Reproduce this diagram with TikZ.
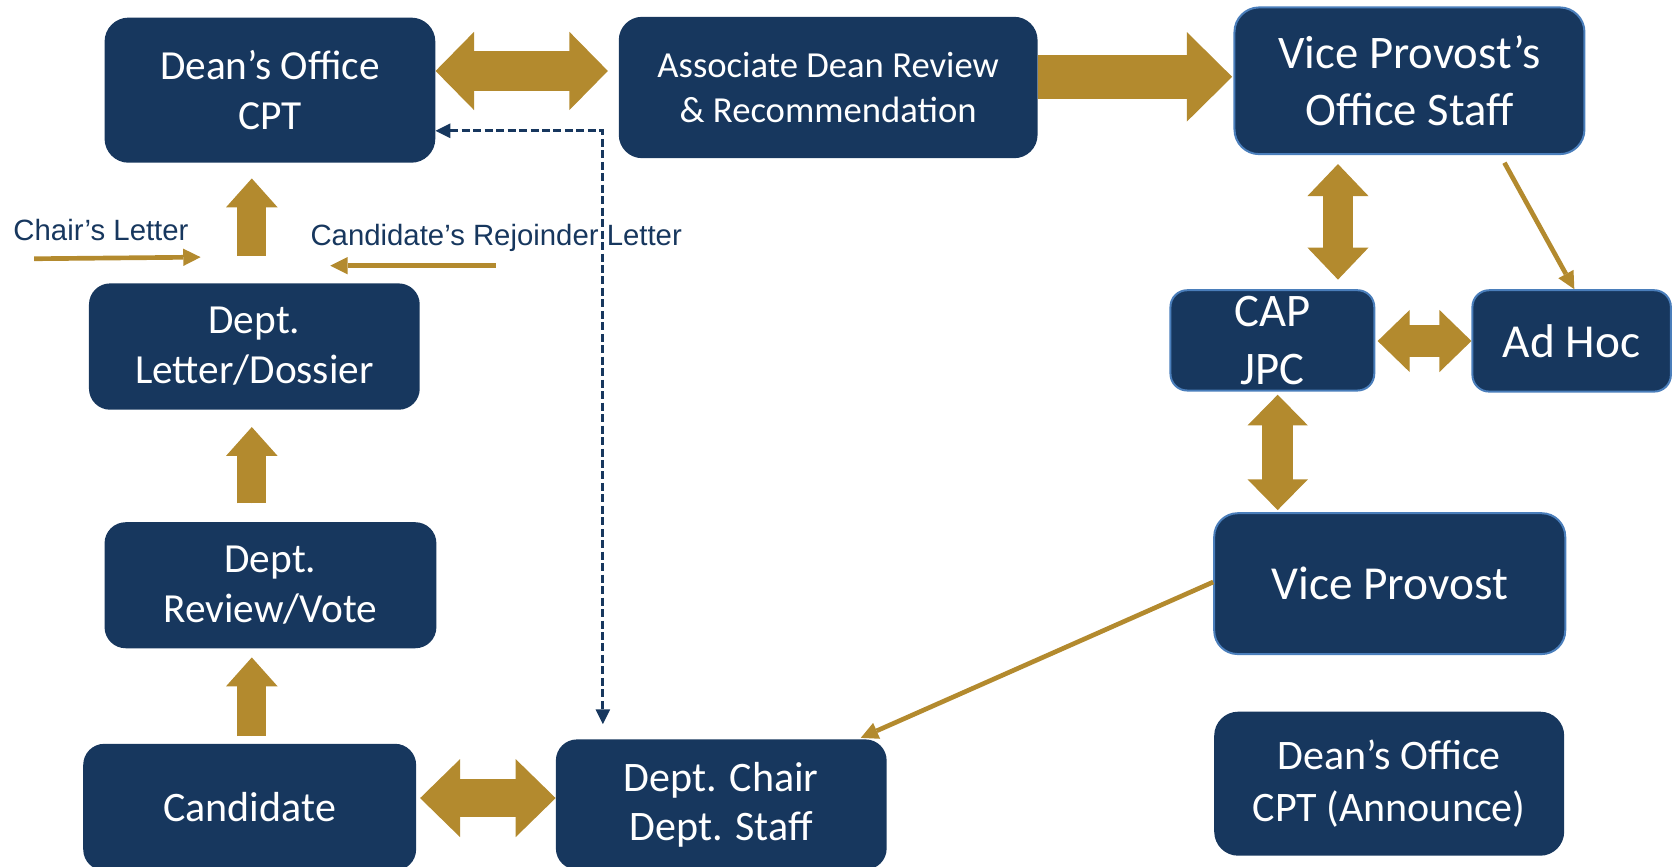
\documentclass[tikz,border=0pt]{standalone}
\usepackage{fontspec}
\setmainfont{Carlito}
\newfontfamily\lblfont{Liberation Sans}
\usetikzlibrary{arrows.meta}
\definecolor{navy}{HTML}{17375E}
\definecolor{gold}{HTML}{B38A2E}
\definecolor{edgeblue}{HTML}{4A7EBB}
\tikzset{
  box/.style={fill=navy, text=white, align=center, inner sep=0pt},
  lightedge/.style={draw=edgeblue, line width=1.5pt},
  fat/.style={draw=gold, fill=gold, line cap=butt},
  thin/.style={draw=gold, line width=3.5pt, -{Triangle[length=13pt,width=13pt,line width=0pt]}},
  lbl/.style={text=navy, font=\lblfont\fontsize{22}{26}\selectfont, inner sep=0pt},
  dasharrow/.style={draw=navy, line width=2.4pt, dash pattern=on 6pt off 2.6pt,
    {Triangle[length=11pt,width=11pt,line width=0pt]}-{Triangle[length=11pt,width=11pt,line width=0pt]}}
}
\begin{document}
\begin{tikzpicture}[x=0.8pt,y=-0.8pt]
\useasboundingbox (0,0) rectangle (1568,812);

% boxes
\node[box, minimum width=248pt, minimum height=108.8pt, rounded corners=18pt,
  font=\fontsize{31}{37}\selectfont] (dean) at (253,84.5) {Dean’s Office\\CPT};
\node[box, minimum width=314pt, minimum height=106pt, rounded corners=17.5pt,
  font=\fontsize{27.5}{33.5}\selectfont] (assoc) at (776.2,82) {Associate Dean Review\\\& Recommendation};
\node[box, lightedge, minimum width=262.4pt, minimum height=110pt, rounded corners=18.5pt,
  font=\fontsize{35}{42.5}\selectfont] (vpstaff) at (1321,75.7) {Vice Provost’s\\Office Staff};
\node[box, lightedge, minimum width=152.8pt, minimum height=75.2pt, rounded corners=12.5pt,
  font=\fontsize{35}{43}\selectfont] (cap) at (1192.5,319) {CAP\\JPC};
\node[box, lightedge, minimum width=148.8pt, minimum height=76pt, rounded corners=12.5pt,
  font=\fontsize{35.5}{43}\selectfont] (adhoc) at (1473,319.5) {Ad Hoc};
\node[box, minimum width=248pt, minimum height=94.7pt, rounded corners=15.8pt,
  font=\fontsize{31}{37.5}\selectfont] (letter) at (238.4,324.8) {Dept.\\Letter/Dossier};
\node[box, minimum width=248.8pt, minimum height=94.5pt, rounded corners=15.8pt,
  font=\fontsize{31}{37.5}\selectfont] (review) at (253.5,548.5) {Dept.\\Review/Vote};
\node[box, minimum width=249.6pt, minimum height=95pt, rounded corners=15.8pt,
  font=\fontsize{31.5}{37.5}\selectfont] (candidate) at (234,756.5) {Candidate};
\node[box, minimum width=248pt, minimum height=97.6pt, rounded corners=15.8pt,
  font=\fontsize{31.5}{37}\selectfont] (deptchair) at (676,754) {Dept. Chair\\Dept. Staff};
\node[box, lightedge, minimum width=263.2pt, minimum height=105.6pt, rounded corners=17.6pt,
  font=\fontsize{35.5}{42}\selectfont] (vp) at (1302.5,547) {Vice Provost};
\node[box, minimum width=262.4pt, minimum height=108pt, rounded corners=18pt,
  font=\fontsize{31.5}{38.5}\selectfont] (announce) at (1302,734.5) {Dean’s Office\\CPT (Announce)};

% fat arrows
\draw[fat, line width=29.6pt,
  {Triangle[length=28.8pt,width=58.4pt,line width=1pt]}-{Triangle[length=28.8pt,width=58.4pt,line width=1pt]},
  shorten >=8pt] (dean.east |- 0,66.5) -- (assoc.west |- 0,66.5);
\draw[fat, line width=32.8pt, -{Triangle[length=34pt,width=67pt,line width=1pt]}, shorten >=1pt]
  (assoc.east |- 0,72) -- (vpstaff.west |- 0,72);
\draw[fat, line width=21.6pt, -{Triangle[length=21.6pt,width=38.4pt,line width=1pt]},
  shorten <=20.5pt, shorten >=11.6pt] (236,0 |- letter.north) -- (236,0 |- dean.south);
\draw[fat, line width=21.6pt, -{Triangle[length=21.6pt,width=38.4pt,line width=1pt]},
  shorten <=14pt, shorten >=12.8pt] (236,0 |- review.north) -- (236,0 |- letter.south);
\draw[fat, line width=21.6pt, -{Triangle[length=21.6pt,width=38.4pt,line width=1pt]},
  shorten <=5.6pt, shorten >=6.7pt] (236,0 |- candidate.north) -- (236,0 |- review.south);
\draw[fat, line width=29pt,
  {Triangle[length=30pt,width=58.4pt,line width=1pt]}-{Triangle[length=30pt,width=58.4pt,line width=1pt]},
  shorten <=2.8pt] (candidate.east |- 0,748) -- (deptchair.west |- 0,748);
\draw[fat, line width=22.7pt,
  {Triangle[length=24pt,width=45.6pt,line width=1pt]}-{Triangle[length=24pt,width=45.6pt,line width=1pt]},
  shorten <=6.7pt, shorten >=7.2pt] (1254,0 |- vpstaff.south) -- (1254,0 |- cap.north);
\draw[fat, line width=24pt,
  {Triangle[length=24pt,width=46.4pt,line width=1pt]}-{Triangle[length=24pt,width=46.4pt,line width=1pt]},
  shorten <=1.8pt] (cap.east |- 0,319.6) -- (adhoc.west |- 0,319.6);
\draw[fat, line width=23pt,
  {Triangle[length=23pt,width=45pt,line width=1pt]}-{Triangle[length=23pt,width=45pt,line width=1pt]},
  shorten <=2.4pt, shorten >=1.6pt] (1197.5,0 |- cap.south) -- (1197.5,0 |- vp.north);

% thin arrows
\coordinate (chs) at (32,242.5);
\coordinate (che) at (188,241);
\draw[thin] (chs) -- (che);
\coordinate (rjs) at (464.5,249);
\coordinate (rje) at (309.6,249);
\draw[thin] (rjs) -- (rje);
\coordinate (vss) at (1410,152.5);
\draw[thin] (vss) -- (1475.5,0 |- adhoc.north);
\draw[thin, shorten >=2.4pt] (vp.west |- 0,545.5) -- (804,0 |- deptchair.north);

% dashed arrow
\coordinate (dbend) at (565,122.6);
\draw[dasharrow, shorten >=11.3pt] (dean.east |- dbend) -- (dbend) -- (dbend |- deptchair.north);

% labels
\node[lbl, anchor=base west] (chairlbl) at (12.4,225) {Chair’s Letter};
\node[lbl, anchor=base west] (rejlbl) at (290.8,230) {Candidate’s Rejoinder Letter};
\end{tikzpicture}
\end{document}
